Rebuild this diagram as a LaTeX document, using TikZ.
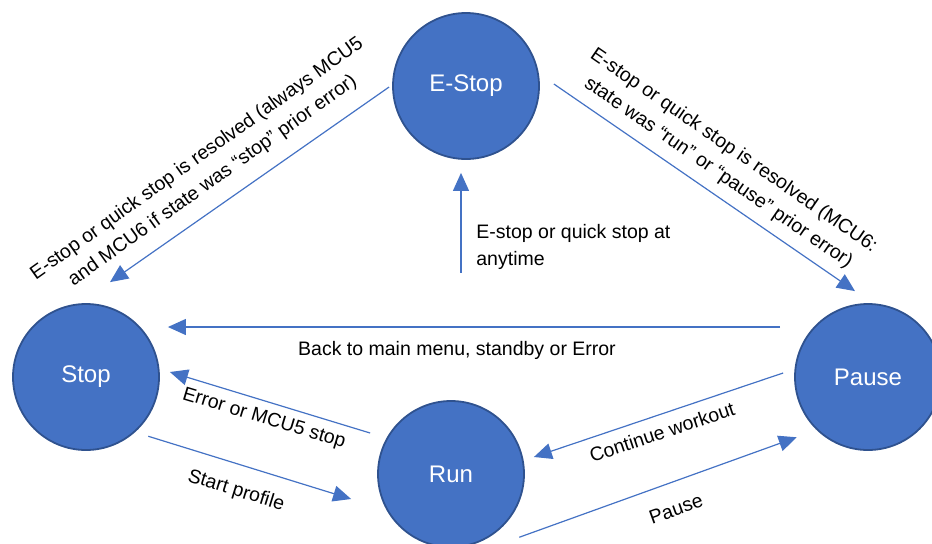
\documentclass[tikz,border=0pt]{standalone}
\usepackage{fontspec}
\setmainfont{Liberation Sans}
\usetikzlibrary{arrows.meta}
\definecolor{stateblue}{HTML}{4472C4}
\definecolor{stateedge}{HTML}{2F528F}
\begin{document}
\begin{tikzpicture}[x=0.5pt,y=-0.5pt,
  state/.style={circle,fill=stateblue,draw=stateedge,line width=0.9pt,minimum size=73pt,inner sep=0pt,text=white,font=\fontsize{12}{14}\selectfont},
  flow/.style={draw=stateblue,line width=0.6pt,-{Triangle[length=9pt,width=8pt]}},
  lbl/.style={font=\fontsize{9.75}{13.5}\selectfont,inner sep=0pt,align=center}]
\useasboundingbox (0,0) rectangle (932,543);
% states
\node[state] (estop) at (466,86) {E-Stop};
\node[state] (stop) at (86,377) {Stop};
\node[state] (pause) at (868,377) {Pause};
\node[state] (run) at (451,474) {Run};
% transitions
\draw[flow] ([shift={(-3,1)}]estop.west) -- ([shift={(24,-21)}]stop.north);
\draw[flow] ([shift={(14,-2)}]estop.east) -- ([shift={(-13,-12)}]pause.north);
\draw[flow] ([shift={(-5,113)}]estop.south) -- ([shift={(-5,13)}]estop.south);
\draw[flow] ([shift={(-14,-50)}]pause.west) -- ([shift={(8,-50)}]stop.east);
\draw[flow] ([shift={(-7,-41)}]run.west) -- ([shift={(10,-5)}]stop.east);
\draw[flow] ([shift={(10,7)}]stop.south east) -- ([shift={(-26,25)}]run.west);
\draw[flow] ([shift={(-11,-4)}]pause.west) -- ([shift={(9,-17)}]run.east);
\draw[flow] ([shift={(16,11)}]run.south east) -- ([shift={(-19,8)}]pause.south west);
% labels
\node[lbl,rotate=35.5] (resolvestop) at (205,170) {E-stop or quick stop is resolved (always MCU5\\and MCU6 if state was “stop” prior error)};
\node[lbl,rotate=-34.6] (resolvepause) at (726,162) {E-stop or quick stop is resolved (MCU6:\\state was “run” or “pause” prior error)};
\node[lbl,anchor=west,align=left] (anytime) at (476,247) {E-stop or quick stop at\\anytime};
\node[lbl] (backmenu) at (457,350) {Back to main menu, standby or Error};
\node[lbl,rotate=-16.8] (errstop) at (264,419) {Error or MCU5 stop};
\node[lbl,rotate=-17.2] (startprof) at (236,491) {Start profile};
\node[lbl,rotate=18.5] (contwork) at (662,432) {Continue workout};
\node[lbl,rotate=19.8] (pauselbl) at (676,509) {Pause};
\end{tikzpicture}
\end{document}
